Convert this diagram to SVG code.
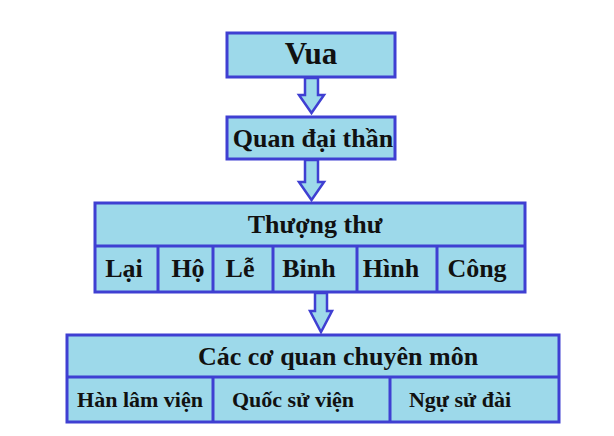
<svg xmlns="http://www.w3.org/2000/svg" width="614" height="436" viewBox="0 0 614 436">
<style>
.box{fill:#9dd9ea;stroke:#3f3fd2;stroke-width:3}
.ln{stroke:#3f3fd2;stroke-width:3;fill:none}
.arr{fill:#9dd9ea;stroke:#3f3fd2;stroke-width:2.5;stroke-linejoin:miter}
text{font-family:"Liberation Serif","Times New Roman",serif;font-weight:bold;fill:#111;text-anchor:middle}
.t1{font-size:31px}
.t2{font-size:26px}
.t3{font-size:22px}
</style>
<rect width="614" height="436" fill="#fff"/>
<g id="connectors">
<path class="arr" d="M305,78 L318,78 L318,95 L324,95 L311.5,113 L299,95 L305,95 Z"/>
<path class="arr" d="M305,160 L318,160 L318,182 L324,182 L311.5,200 L299,182 L305,182 Z"/>
<path class="arr" d="M315,293 L327,293 L327,311 L332,311 L321,332 L310,311 L315,311 Z"/>
</g>
<g id="vua">
<rect class="box" x="227" y="33" width="168" height="44"/>
<text class="t1" x="311" y="64">Vua</text>
</g>
<g id="quan-dai-than">
<rect class="box" x="227" y="117" width="168" height="42"/>
<text class="t2" x="313" y="147">Quan đại thần</text>
</g>
<g id="thuong-thu">
<rect class="box" x="95" y="203" width="430" height="89"/>
<line class="ln" x1="95" y1="246" x2="525" y2="246"/>
<line class="ln" x1="158" y1="246" x2="158" y2="292"/>
<line class="ln" x1="213" y1="246" x2="213" y2="292"/>
<line class="ln" x1="273" y1="246" x2="273" y2="292"/>
<line class="ln" x1="357" y1="246" x2="357" y2="292"/>
<line class="ln" x1="437" y1="246" x2="437" y2="292"/>
<text class="t2" x="315" y="233">Thượng thư</text>
<text class="t2" x="124" y="277">Lại</text>
<text class="t2" x="188" y="277">Hộ</text>
<text class="t2" x="240" y="277">Lễ</text>
<text class="t2" x="309" y="277">Binh</text>
<text class="t2" x="391" y="277">Hình</text>
<text class="t2" x="477" y="277">Công</text>
</g>
<g id="cac-co-quan">
<rect class="box" x="67" y="335" width="492" height="87"/>
<line class="ln" x1="67" y1="377" x2="559" y2="377"/>
<line class="ln" x1="213" y1="377" x2="213" y2="422"/>
<line class="ln" x1="390" y1="377" x2="390" y2="422"/>
<text class="t2" x="338" y="365">Các cơ quan chuyên môn</text>
<text class="t3" x="140" y="407">Hàn lâm viện</text>
<text class="t3" x="293" y="407">Quốc sử viện</text>
<text class="t3" x="460" y="407">Ngự sử đài</text>
</g>
</svg>
